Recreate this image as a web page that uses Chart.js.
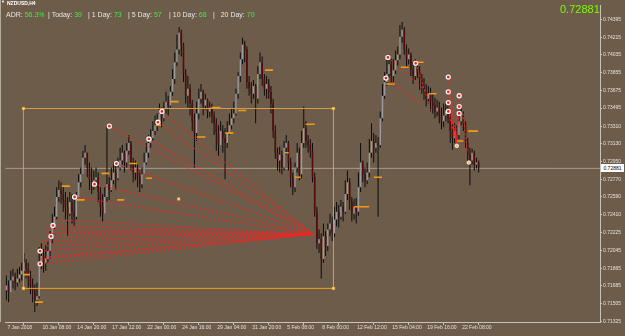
<!DOCTYPE html>
<html>
<head>
<meta charset="utf-8">
<title>NZDUSD,H4</title>
<script src="https://cdn.jsdelivr.net/npm/chart.js@4.4.1/dist/chart.umd.min.js"></script>
<style>
    html, body { margin: 0; padding: 0; background: #6d5c4a; }
    #wrap { position: relative; width: 625px; height: 336px; overflow: hidden; font-family: "Liberation Sans", Arial, sans-serif; }
    canvas { position: absolute; left: 0; top: 0; }
    .t { position: absolute; white-space: nowrap; line-height: 1; }
    .hdr { font-size: 7px; color: #e6e6e6; top: 11px; }
    .g { color: #3cf03c; }
    #edge { position: absolute; left: 0; top: 0; width: 1px; height: 322px; background: #b4aa9c; }
    #bid { position: absolute; left: 601px; width: 23px; height: 8px; background: #fff; color: #000; font-size: 5px; line-height: 8px; text-align: center; }
</style>
</head>
<body>
<div id="wrap">
    <canvas id="chart" width="625" height="336"></canvas>
    <div id="edge"></div>
    <div class="t" style="left:1px;top:0px;font-size:4px;color:#fff;">&#9660;</div>
    <div class="t" style="left:7px;top:1px;font-size:5px;color:#fff;font-weight:bold;">NZDUSD,H4</div>
    <div class="t hdr" style="left:6px;">ADR: <span class="g">56.3%</span></div>
    <div class="t hdr" style="left:48px;">| Today: <span class="g">39</span></div>
    <div class="t hdr" style="left:88px;">| 1 Day: <span class="g">73</span></div>
    <div class="t hdr" style="left:128px;">| 5 Day: <span class="g">57</span></div>
    <div class="t hdr" style="left:169px;">| 10 Day: <span class="g">68</span></div>
    <div class="t hdr" style="left:213px;">|&nbsp;&nbsp; 20 Day: <span class="g">70</span></div>
    <div class="t" style="left:560px;top:4px;font-size:11px;color:#7cfc00;">0.72881</div>
    <div id="bid">0.72881</div>
</div>

<script>
    // NZDUSD H4 candles, one entry per bar (open = previous close)
    const firstOpen = 0.7164;
    const closes = [
        0.7169, 0.7162, 0.7174, 0.7178, 0.7172, 0.7176, 0.7180, 0.7184, 0.7192, 0.7186,
        0.7178, 0.7169, 0.7164, 0.7154, 0.7158, 0.7192, 0.7199, 0.7192, 0.7196, 0.7204,
        0.7216, 0.7229, 0.7239, 0.7259, 0.7266, 0.7262, 0.7256, 0.7249, 0.7242, 0.7254,
        0.7244, 0.7239, 0.7259, 0.7274, 0.7282, 0.7299, 0.7304, 0.7289, 0.7276, 0.7272,
        0.7276, 0.7279, 0.7264, 0.7249, 0.7242, 0.7259, 0.7272, 0.7266, 0.7276, 0.7284,
        0.7278, 0.7289, 0.7296, 0.7304, 0.7294, 0.7306, 0.7314, 0.7294, 0.7284, 0.7289,
        0.7279, 0.7272, 0.7282, 0.7294, 0.7304, 0.7314, 0.7319, 0.7326, 0.7332, 0.7336,
        0.7344, 0.7339, 0.7349, 0.7356, 0.7352, 0.7366, 0.7379, 0.7396, 0.7409, 0.7426,
        0.7414, 0.7384, 0.7362, 0.7369, 0.7354, 0.7336, 0.7324, 0.7344, 0.7359, 0.7366,
        0.7352, 0.7358, 0.7346, 0.7350, 0.7342, 0.7334, 0.7324, 0.7312, 0.7326, 0.7319,
        0.7314, 0.7324, 0.7332, 0.7339, 0.7344, 0.7364, 0.7382, 0.7399, 0.7414, 0.7409,
        0.7376, 0.7369, 0.7364, 0.7372, 0.7359, 0.7384, 0.7396, 0.7379, 0.7369, 0.7374,
        0.7366, 0.7354, 0.7326, 0.7304, 0.7296, 0.7302, 0.7289, 0.7309, 0.7314, 0.7294,
        0.7279, 0.7269, 0.7289, 0.7304, 0.7282, 0.7314, 0.7329, 0.7316, 0.7312, 0.7306,
        0.7279, 0.7244, 0.7212, 0.7216, 0.7196, 0.7219, 0.7209, 0.7226, 0.7232, 0.7222,
        0.7236, 0.7244, 0.7239, 0.7249, 0.7244, 0.7262, 0.7274, 0.7254, 0.7242, 0.7249,
        0.7244, 0.7269, 0.7294, 0.7282, 0.7276, 0.7284, 0.7304, 0.7316, 0.7309, 0.7314,
        0.7312, 0.7339, 0.7362, 0.7376, 0.7384, 0.7394, 0.7382, 0.7388, 0.7398, 0.7404,
        0.7422, 0.7429, 0.7409, 0.7399, 0.7404, 0.7389, 0.7382, 0.7392, 0.7386, 0.7379,
        0.7372, 0.7366, 0.7359, 0.7364, 0.7356, 0.7352, 0.7346, 0.7350, 0.7342, 0.7336,
        0.7342, 0.7346, 0.7339, 0.7326, 0.7319, 0.7326, 0.7322, 0.7336, 0.7342, 0.7334,
        0.7314, 0.7302, 0.7296, 0.7304, 0.7292, 0.7294, 0.72881
    ];
    const highs = [
        0.7179, 0.7174, 0.7184, 0.7186, 0.7182, 0.7186, 0.7188, 0.7192, 0.7202, 0.7196,
        0.7192, 0.7184, 0.7176, 0.7170, 0.7172, 0.7208, 0.7212, 0.7206, 0.7210, 0.7214,
        0.7224, 0.7242, 0.7249, 0.7269, 0.7276, 0.7274, 0.7270, 0.7264, 0.7259, 0.7264,
        0.7262, 0.7256, 0.7264, 0.7282, 0.7289, 0.7306, 0.7312, 0.7304, 0.7294, 0.7289,
        0.7286, 0.7289, 0.7284, 0.7269, 0.7262, 0.7269, 0.7331, 0.7279, 0.7289, 0.7294,
        0.7292, 0.7299, 0.7309, 0.7312, 0.7306, 0.7314, 0.7322, 0.7316, 0.7299, 0.7296,
        0.7292, 0.7286, 0.7289, 0.7304, 0.7314, 0.7322, 0.7328, 0.7336, 0.7342, 0.7344,
        0.7354, 0.7350, 0.7356, 0.7366, 0.7362, 0.7372, 0.7389, 0.7406, 0.7424, 0.7432,
        0.7429, 0.7416, 0.7389, 0.7382, 0.7374, 0.7358, 0.7344, 0.7356, 0.7369, 0.7374,
        0.7368, 0.7364, 0.7359, 0.7356, 0.7354, 0.7346, 0.7339, 0.7332, 0.7336, 0.7332,
        0.7329, 0.7336, 0.7344, 0.7349, 0.7356, 0.7369, 0.7386, 0.7406, 0.7421, 0.7418,
        0.7412, 0.7382, 0.7376, 0.7378, 0.7374, 0.7392, 0.7406, 0.7402, 0.7384, 0.7382,
        0.7379, 0.7372, 0.7359, 0.7332, 0.7309, 0.7310, 0.7306, 0.7316, 0.7322, 0.7316,
        0.7299, 0.7284, 0.7294, 0.7314, 0.7309, 0.7326, 0.7351, 0.7336, 0.7322, 0.7318,
        0.7314, 0.7284, 0.7249, 0.7226, 0.7222, 0.7232, 0.7224, 0.7232, 0.7242, 0.7239,
        0.7249, 0.7254, 0.7251, 0.7256, 0.7254, 0.7276, 0.7286, 0.7278, 0.7259, 0.7257,
        0.7258, 0.7284, 0.7314, 0.7296, 0.7289, 0.7294, 0.7318, 0.7334, 0.7324, 0.7322,
        0.7320, 0.7346, 0.7374, 0.7386, 0.7404, 0.7404, 0.7400, 0.7399, 0.7408, 0.7412,
        0.7434, 0.7437, 0.7432, 0.7414, 0.7410, 0.7406, 0.7396, 0.7399, 0.7397, 0.7392,
        0.7384, 0.7380, 0.7374, 0.7372, 0.7370, 0.7364, 0.7360, 0.7358, 0.7356, 0.7350,
        0.7354, 0.7356, 0.7352, 0.7344, 0.7334, 0.7334, 0.7332, 0.7349, 0.7351, 0.7346,
        0.7336, 0.7319, 0.7309, 0.7308, 0.7306, 0.7299, 0.7296
    ];
    const lows = [
        0.7154, 0.7152, 0.7162, 0.7166, 0.7164, 0.7168, 0.7172, 0.7174, 0.7180, 0.7176,
        0.7166, 0.7160, 0.7152, 0.7142, 0.7148, 0.7156, 0.7186, 0.7182, 0.7184, 0.7192,
        0.7196, 0.7212, 0.7226, 0.7236, 0.7254, 0.7252, 0.7244, 0.7236, 0.7219, 0.7240,
        0.7232, 0.7229, 0.7236, 0.7262, 0.7269, 0.7284, 0.7292, 0.7279, 0.7266, 0.7262,
        0.7266, 0.7269, 0.7254, 0.7239, 0.7234, 0.7244, 0.7254, 0.7256, 0.7264, 0.7272,
        0.7266, 0.7276, 0.7286, 0.7292, 0.7284, 0.7289, 0.7302, 0.7286, 0.7274, 0.7276,
        0.7269, 0.7264, 0.7268, 0.7282, 0.7292, 0.7299, 0.7309, 0.7316, 0.7322, 0.7326,
        0.7332, 0.7330, 0.7336, 0.7344, 0.7342, 0.7350, 0.7362, 0.7374, 0.7392, 0.7404,
        0.7402, 0.7376, 0.7354, 0.7350, 0.7342, 0.7326, 0.7289, 0.7316, 0.7338, 0.7354,
        0.7342, 0.7348, 0.7339, 0.7340, 0.7334, 0.7322, 0.7306, 0.7301, 0.7314, 0.7304,
        0.7277, 0.7309, 0.7322, 0.7328, 0.7334, 0.7342, 0.7359, 0.7376, 0.7394, 0.7396,
        0.7369, 0.7362, 0.7354, 0.7359, 0.7334, 0.7354, 0.7379, 0.7372, 0.7362, 0.7359,
        0.7359, 0.7344, 0.7319, 0.7298, 0.7286, 0.7284, 0.7282, 0.7286, 0.7302, 0.7286,
        0.7269, 0.7261, 0.7264, 0.7284, 0.7276, 0.7278, 0.7309, 0.7309, 0.7304, 0.7299,
        0.7274, 0.7239, 0.7206, 0.7202, 0.7176, 0.7192, 0.7199, 0.7204, 0.7219, 0.7214,
        0.7218, 0.7229, 0.7228, 0.7236, 0.7234, 0.7242, 0.7256, 0.7246, 0.7234, 0.7236,
        0.7232, 0.7240, 0.7264, 0.7274, 0.7269, 0.7272, 0.7279, 0.7299, 0.7294, 0.7304,
        0.7239, 0.7309, 0.7336, 0.7359, 0.7372, 0.7380, 0.7374, 0.7376, 0.7384, 0.7392,
        0.7399, 0.7416, 0.7404, 0.7391, 0.7394, 0.7382, 0.7374, 0.7378, 0.7380, 0.7368,
        0.7364, 0.7358, 0.7351, 0.7354, 0.7346, 0.7344, 0.7339, 0.7341, 0.7334, 0.7328,
        0.7330, 0.7336, 0.7334, 0.7314, 0.7307, 0.7314, 0.7316, 0.7318, 0.7332, 0.7326,
        0.7309, 0.7294, 0.7271, 0.7292, 0.7286, 0.7288, 0.7284
    ];

    // axis labels (one x label every 16 bars)
    const xTickLabels = ['7 Jan 2018', '10 Jan 08:00', '14 Jan 20:00', '17 Jan 12:00', '22 Jan 00:00',
        '24 Jan 16:00', '29 Jan 04:00', '31 Jan 20:00', '5 Feb 08:00', '8 Feb 00:00',
        '12 Feb 12:00', '15 Feb 04:00', '19 Feb 16:00', '22 Feb 08:00'];
    const yTickLabels = ['0.74395', '0.74215', '0.74035', '0.73855', '0.73675', '0.73495', '0.73310',
        '0.73130', '0.72950', '0.72770', '0.72590', '0.72410', '0.72225', '0.72045',
        '0.71865', '0.71685', '0.71505', '0.71325'];
    const bidPrice = 0.72881;

    // chart objects: [bar index, price]
    const boxLeft = 7.8, boxRight = 149.6, boxTop = 0.7349, boxBottom = 0.7166;
    const boxCenter = [78.8, 0.7257];
    const fanEnd = [140.5, 0.7221];
    const fanStarts = [
        [47.1, 0.7331], [65.2, 0.7318], [69.3, 0.7335], [71.1, 0.7346], [50.3, 0.7293],
        [40.3, 0.7272], [31.2, 0.7259], [21.3, 0.7230], [20.4, 0.7219], [17.6, 0.7226],
        [15.4, 0.7204], [15.4, 0.7191], [16.7, 0.7209], [18.0, 0.7198], [19.0, 0.7222],
        [22.0, 0.7236], [16.2, 0.7214], [15.8, 0.7196]
    ];
    const rightLines = [
        [174.5, 0.7378, 189.9, 0.7354], [174.5, 0.7401, 192.2, 0.7366], [187.2, 0.7395, 194.4, 0.7346],
        [202.1, 0.7381, 205.8, 0.7314], [202.1, 0.7366, 205.8, 0.7314], [202.1, 0.7355, 205.8, 0.7314],
        [202.1, 0.7346, 205.8, 0.7314], [207.1, 0.7362, 205.8, 0.7314], [207.1, 0.7351, 205.8, 0.7314],
        [207.1, 0.7344, 205.8, 0.7314], [208.9, 0.7344, 210.8, 0.7304]
    ];
    const circleMarks = [
        [47.1, 0.7331], [50.3, 0.7293], [40.3, 0.7272], [31.2, 0.7259], [21.3, 0.7230],
        [20.4, 0.7219], [15.4, 0.7204], [15.4, 0.7191], [65.2, 0.7318], [69.3, 0.7335],
        [71.1, 0.7346], [173.6, 0.7380], [174.5, 0.7401], [187.2, 0.7395], [202.1, 0.7381],
        [202.1, 0.7366], [202.1, 0.7355], [202.1, 0.7346], [207.1, 0.7362], [207.1, 0.7351],
        [207.1, 0.7344]
    ];
    const yellowMarks = [[206.0, 0.7311], [211.5, 0.7294]];
    // short orange levels: [from bar, to bar, price]
    const orangeLevels = [
        [13.1, 16.7, 0.7152], [7.7, 10.8, 0.7180], [25.3, 29.0, 0.7270], [32.1, 35.8, 0.7256],
        [43.5, 47.1, 0.7283], [50.7, 53.9, 0.7256], [56.2, 59.8, 0.7293], [63.9, 66.6, 0.7278],
        [68.4, 70.7, 0.7332], [75.2, 78.8, 0.7356], [87.0, 91.1, 0.7320], [93.8, 97.9, 0.7350],
        [100.1, 103.8, 0.7324], [106.0, 109.7, 0.7347], [118.3, 121.9, 0.7388], [127.3, 129.1, 0.7304],
        [131.9, 134.6, 0.7279], [136.9, 141.0, 0.7333], [159.1, 165.9, 0.7249], [168.1, 171.8, 0.7279],
        [173.6, 177.7, 0.7374], [180.4, 184.0, 0.7391], [187.2, 190.8, 0.7396], [193.1, 196.7, 0.7364],
        [205.8, 209.0, 0.7316], [211.2, 215.7, 0.7326]
    ];

    const xMin = -0.5, xMax = 271.5;
    const opens = closes.map((c, i) => i === 0 ? firstOpen : closes[i - 1]);
    const isUp = closes.map((c, i) => c >= opens[i]);

    const wickData = closes.map((c, i) => ({ x: i, y: [Math.min(lows[i], opens[i], c), Math.max(highs[i], opens[i], c)] }));
    const bodyData = closes.map((c, i) => ({ x: i, y: [opens[i], c] }));

    function segments(list) {
        const out = [];
        list.forEach(s => {
            out.push({ x: s[0], y: s[1] }, { x: s[2], y: s[3] }, { x: s[2], y: null });
        });
        return out;
    }
    const fanData = segments(fanStarts.map(p => [p[0], p[1], fanEnd[0], fanEnd[1]]).concat(rightLines));
    const levelData = segments(orangeLevels.map(l => [l[0], l[2], l[1], l[2]]));
    const boxData = [
        { x: boxLeft, y: boxTop }, { x: boxRight, y: boxTop }, { x: boxRight, y: boxBottom },
        { x: boxLeft, y: boxBottom }, { x: boxLeft, y: boxTop }
    ];

    const axisFont = { family: "'Liberation Sans', Arial, sans-serif", size: 5 };
    const axisColor = '#c8c2b8';

    const chart = new Chart(document.getElementById('chart'), {
        type: 'bar',
        data: {
            datasets: [
                {
                    type: 'line', order: 10,
                    data: [{ x: xMin, y: bidPrice }, { x: xMax, y: bidPrice }],
                    borderColor: '#a49c90', borderWidth: 1, pointRadius: 0
                },
                {
                    order: 8, data: wickData, grouped: false, maxBarThickness: 1,
                    backgroundColor: '#0c0c0c', borderWidth: 0
                },
                {
                    order: 7, data: bodyData, grouped: false, maxBarThickness: 2, minBarLength: 1,
                    backgroundColor: isUp.map(u => u ? '#9a9a9a' : '#560a0a'), borderWidth: 0
                },
                {
                    type: 'line', order: 6, data: boxData, borderWidth: 1,
                    segment: { borderColor: ctx => ctx.p0DataIndex === 2 ? '#f2a01c' : '#d49a44' },
                    borderColor: '#d49a44',
                    pointRadius: [1.8, 1.8, 1.8, 1.8, 0], pointStyle: 'rect',
                    pointBackgroundColor: '#ffe27a', pointBorderColor: '#e8a030', pointBorderWidth: 0.5
                },
                {
                    type: 'line', order: 6, data: [{ x: boxCenter[0], y: boxCenter[1] }], showLine: false,
                    pointRadius: 1.8, pointStyle: 'rect',
                    pointBackgroundColor: '#ffe27a', pointBorderColor: '#e8a030', pointBorderWidth: 0.5
                },
                {
                    type: 'line', order: 5, data: levelData, spanGaps: false,
                    borderColor: '#f39a12', borderWidth: 1.6, pointRadius: 0
                },
                {
                    type: 'line', order: 4, data: fanData, spanGaps: false,
                    borderColor: '#ff2020', borderWidth: 1, borderDash: [2, 2], pointRadius: 0
                },
                {
                    type: 'line', order: 3, showLine: false,
                    data: circleMarks.map(p => ({ x: p[0], y: p[1] })),
                    pointRadius: 2, pointStyle: 'circle',
                    pointBackgroundColor: '#ff1a1a', pointBorderColor: '#f4f4f4', pointBorderWidth: 1.3
                },
                {
                    type: 'line', order: 3, showLine: false,
                    data: yellowMarks.map(p => ({ x: p[0], y: p[1] })),
                    pointRadius: 1.8, pointStyle: 'circle',
                    pointBackgroundColor: '#f4c060', pointBorderColor: '#ffffff', pointBorderWidth: 0.8
                }
            ]
        },
        options: {
            responsive: false,
            animation: false,
            events: [],
            layout: { padding: 0 },
            plugins: { legend: { display: false }, tooltip: { enabled: false } },
            scales: {
                x: {
                    type: 'linear', min: xMin, max: xMax, offset: false,
                    afterBuildTicks: s => { s.ticks = xTickLabels.map((_, k) => ({ value: k * 16 })); },
                    afterFit: s => { s.height = 14; },
                    ticks: {
                        autoSkip: false, maxRotation: 0, minRotation: 0, align: 'start', labelOffset: 1,
                        padding: 0, color: '#e4e0da', font: axisFont,
                        callback: v => xTickLabels[Math.round(v / 16)]
                    },
                    grid: { drawOnChartArea: false, tickLength: 3, color: axisColor },
                    border: { color: axisColor }
                },
                y: {
                    position: 'right', min: 0.71318, max: 0.7454,
                    afterBuildTicks: s => {
                        s.ticks = yTickLabels.map(v => ({ value: parseFloat(v) })).sort((a, b) => a.value - b.value);
                    },
                    afterFit: s => { s.width = 25; },
                    ticks: {
                        autoSkip: false, padding: 1, color: '#e4e0da', font: axisFont,
                        callback: v => v.toFixed(5)
                    },
                    grid: { drawOnChartArea: false, tickLength: 2, color: axisColor },
                    border: { color: axisColor }
                }
            }
        }
    });

    // current price box on the price scale
    document.getElementById('bid').style.top = (chart.scales.y.getPixelForValue(bidPrice) - 4) + 'px';
</script>
</body>
</html>
